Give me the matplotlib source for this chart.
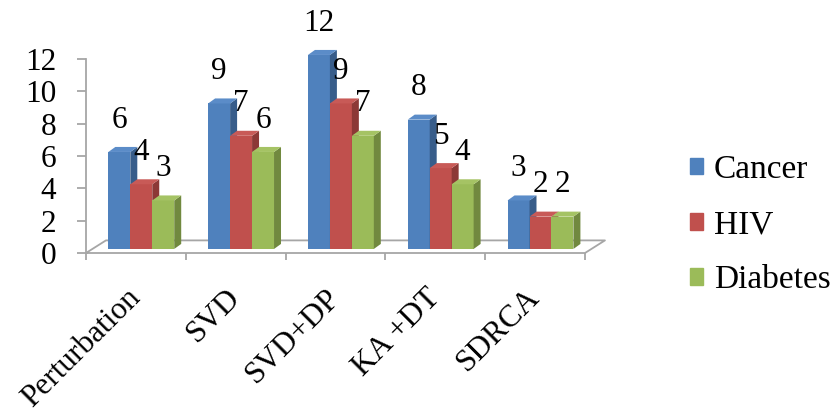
import numpy as np
import matplotlib.pyplot as plt
from matplotlib.patches import Patch

methods = ['Perturbation', 'SVD', 'SVD+DP', 'KA +DT', 'SDRCA']
cancer = [6, 9, 12, 8, 3]
hiv = [4, 7, 9, 5, 2]
diabetes = [3, 6, 7, 4, 2]
series = ['Cancer', 'HIV', 'Diabetes']

front = ['#4F81BD', '#C0504D', '#9BBB59']
side = ['#385D8A', '#8C3836', '#71893F']
top = ['#5B8CC8', '#C85A57', '#A5C364']
grey = '#A6A6A6'

plt.rcParams['font.family'] = ['Liberation Serif', 'DejaVu Serif']
fs = 22.5

fig = plt.figure(figsize=(8.32, 4.12), dpi=100)
ax = fig.add_axes([86/832, 1-253/412, 499/832, 194/412])
ax.set_xlim(-0.5, 4.5)
ax.set_ylim(0, 12)

x = np.arange(len(methods))
w = 0.22
offs = [-0.166, 0.054, 0.274]
ddx, ddy = 0.07, 0.31    # depth of each bar
fdx, fdy = 0.2, 0.78     # depth of the floor
lift = 0.25

# floor outline
ax.plot([-0.5, 4.5, 4.5+fdx, -0.5+fdx, -0.5], [0, 0, fdy, fdy, 0],
        color=grey, lw=1.3, clip_on=False, zorder=1)

for j, vals in enumerate([cancer, hiv, diabetes]):
    xs = x + offs[j]
    ax.bar(xs, vals, w, bottom=lift, color=front[j], lw=0,
           clip_on=False, zorder=3+j)
    for xc, v in zip(xs, vals):
        xl, xr, yt = xc - w/2, xc + w/2, v + lift
        ax.fill([xr, xr+ddx, xr+ddx, xr], [lift, lift+ddy, yt+ddy, yt],
                color=side[j], lw=0, clip_on=False, zorder=3+j)
        ax.fill([xl, xl+ddx, xr+ddx, xr], [yt, yt+ddy, yt+ddy, yt],
                color=top[j], lw=0, clip_on=False, zorder=3+j)
        ax.annotate(str(v), xy=(xc, yt), xytext=(0, 23), textcoords='offset points',
                    ha='center', va='center', fontsize=fs, annotation_clip=False,
                    zorder=10)

for s in ['top', 'right', 'bottom']:
    ax.spines[s].set_visible(False)
ax.spines['left'].set_color(grey)
ax.spines['left'].set_linewidth(1.3)
ax.set_yticks(range(0, 13, 2))
ax.tick_params(axis='y', direction='out', length=6.5, width=1.3, color=grey,
               pad=15, labelsize=fs)
ax.set_xticks(np.arange(-0.5, 5, 1))
ax.set_xticklabels([])
ax.tick_params(axis='x', direction='out', length=5, width=1.3, color=grey)

for i, lab in enumerate(methods):
    ax.annotate(lab, xy=(i, 0), xycoords=ax.get_xaxis_transform(),
                xytext=(0, -29), textcoords='offset points', rotation=45,
                ha='right', va='center', rotation_mode='anchor', fontsize=fs,
                annotation_clip=False)

handles = [Patch(color=c) for c in front]
fig.legend(handles, series, loc='center left', bbox_to_anchor=(690/832, 1-225/412),
           frameon=False, fontsize=24, handlelength=0.39, handleheight=0.39,
           handletextpad=0.33, labelspacing=0.74, borderpad=0, borderaxespad=0)

fig.savefig('out.png', dpi=100)
